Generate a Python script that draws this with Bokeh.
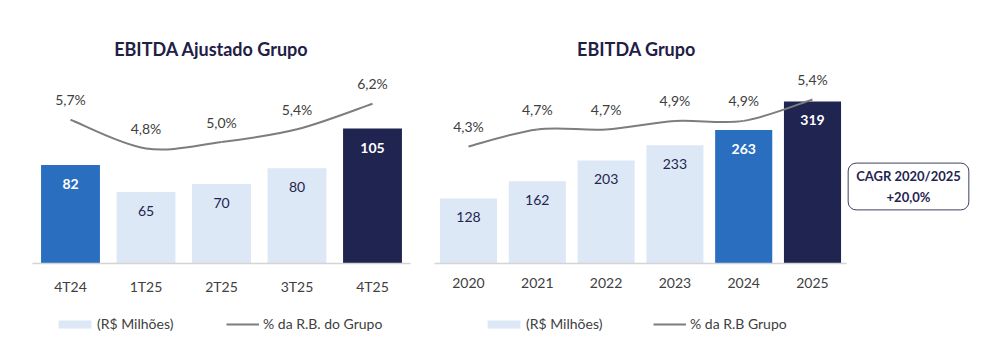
import numpy as np
from bokeh.plotting import figure
from bokeh.models import (ColumnDataSource, Range1d, FixedTicker, Label,
                          Legend, LegendItem)
from bokeh.layouts import row
from bokeh.core.properties import value
from bokeh.embed import file_html
from bokeh.resources import INLINE

# ---------------- data ----------------
adj_title = "EBITDA Ajustado Grupo"
adj_categories = ["4T24", "1T25", "2T25", "3T25", "4T25"]
adj_ebitda = [82, 65, 70, 80, 105]
adj_axis_min = 20
adj_pct = [5.7, 4.8, 5.0, 5.4, 6.2]
adj_pct_labels = ["5,7%", "4,8%", "5,0%", "5,4%", "6,2%"]
adj_legend_bar = "(R$ Milhões)"
adj_legend_line = "% da R.B. do Grupo"

grp_title = "EBITDA Grupo"
grp_categories = ["2020", "2021", "2022", "2023", "2024", "2025"]
grp_ebitda = [128, 162, 203, 233, 263, 319]
grp_axis_min = 0
grp_pct = [4.3, 4.7, 4.7, 4.9, 4.9, 5.4]
grp_pct_labels = ["4,3%", "4,7%", "4,7%", "4,9%", "4,9%", "5,4%"]
grp_legend_bar = "(R$ Milhões)"
grp_legend_line = "% da R.B Grupo"

cagr_text = "CAGR 2020/2025\n+20,0%"

# ---------------- style ----------------
FONT = "Lato"
LIGHT = "#dce8f5"
MID = "#2a6fbf"
DARK = "#1f2550"
NAVY_TXT = "#1f2550"
GRAY_TXT = "#404040"
LINE = "#7d7d7d"

FIG_H = 360
BASE_Y = 263  # page px of the bar baseline


def catmull_bezier(xs, ys):
    n = len(xs)
    pts = list(zip(xs, ys))
    out = dict(x0=[], y0=[], x1=[], y1=[], cx0=[], cy0=[], cx1=[], cy1=[])
    for i in range(n - 1):
        p0 = pts[i - 1] if i > 0 else pts[i]
        p1 = pts[i]
        p2 = pts[i + 1]
        p3 = pts[i + 2] if i + 2 < n else pts[i + 1]
        out["x0"].append(p1[0]); out["y0"].append(p1[1])
        out["x1"].append(p2[0]); out["y1"].append(p2[1])
        out["cx0"].append(p1[0] + (p2[0] - p0[0]) / 6)
        out["cy0"].append(p1[1] + (p2[1] - p0[1]) / 6)
        out["cx1"].append(p2[0] - (p3[0] - p1[0]) / 6)
        out["cy1"].append(p2[1] - (p3[1] - p1[1]) / 6)
    return out


def make_chart(title, title_cx, cats, vals, axis_min, pct, pct_labels,
               bar_colors, lbl_colors, lbl_styles, light_idx,
               fig_left, width, first_cx, step, bar_ppu,
               pct_ref, pct_ref_y, pct_ppu, bar_width,
               leg_bar_text, leg_line_text, leg_bar_x, leg_line_x):
    n = len(cats)
    # ranges so that the frame covers the whole figure
    x_start = -(first_cx - fig_left) / step
    x_end = (fig_left + width - first_cx) / step
    y_start = axis_min - (FIG_H - BASE_Y) / bar_ppu
    y_end = axis_min + BASE_Y / bar_ppu
    p_start = pct_ref - (FIG_H - pct_ref_y) / pct_ppu
    p_end = pct_ref + pct_ref_y / pct_ppu

    p = figure(width=width, height=FIG_H, output_backend="svg",
               toolbar_location=None, y_axis_location=None,
               x_range=Range1d(x_start, x_end), y_range=Range1d(y_start, y_end),
               min_border=0)
    p.extra_y_ranges = {"pct": Range1d(p_start, p_end)}
    p.outline_line_color = None
    p.xgrid.visible = False
    p.ygrid.visible = False

    def yd(page_y):
        return axis_min + (BASE_Y - page_y) * 1.0 / bar_ppu

    def xd(page_x):
        return (page_x - first_cx) / step

    xs = list(range(n))
    src = ColumnDataSource(dict(x=xs, top=vals, color=bar_colors,
                                lbl=[str(v) for v in vals],
                                lcolor=lbl_colors, lstyle=lbl_styles))
    bars = p.vbar(x="x", top="top", bottom=axis_min, width=bar_width,
                  fill_color="color", line_color=None, source=src)
    p.text(x="x", y="top", text="lbl", source=src, text_font=value(FONT),
           text_font_size="14px", text_color="lcolor", text_font_style="lstyle",
           text_align="center", text_baseline="middle", y_offset=19)

    bz = catmull_bezier(xs, pct)
    line = p.bezier(source=ColumnDataSource(bz), x0="x0", y0="y0", x1="x1",
                    y1="y1", cx0="cx0", cy0="cy0", cx1="cx1", cy1="cy1",
                    line_color=LINE, line_width=2, y_range_name="pct")
    psrc = ColumnDataSource(dict(x=xs, y=pct, t=pct_labels))
    p.text(x="x", y="y", text="t", source=psrc, y_range_name="pct",
           text_font=value(FONT), text_font_size="14px", text_color=GRAY_TXT,
           text_align="center", text_baseline="middle", y_offset=-20)

    # x axis drawn at the baseline inside the frame
    ax = p.xaxis[0]
    ax.fixed_location = axis_min
    ax.bounds = (-0.5, n - 0.5)
    ax.ticker = FixedTicker(ticks=xs)
    ax.major_label_overrides = {i: c for i, c in enumerate(cats)}
    ax.axis_line_color = "#d4d4d4"
    ax.axis_line_width = 1.5
    ax.major_tick_line_color = None
    ax.minor_tick_line_color = None
    ax.major_label_standoff = 8
    ax.major_label_text_font = FONT
    ax.major_label_text_font_size = "14px"
    ax.major_label_text_color = GRAY_TXT

    # title
    p.add_layout(Label(x=xd(title_cx), y=yd(48), text=title,
                       text_font=FONT, text_font_size="18px",
                       text_font_style="bold", text_color="#1f2046",
                       text_align="center", text_baseline="middle"))

    common = dict(orientation="horizontal", padding=0, margin=0,
                  border_line_color=None, background_fill_color=None,
                  label_text_font=FONT, label_text_font_size="14px",
                  label_text_color=GRAY_TXT, label_height=10,
                  label_text_baseline="middle")
    leg_y = FIG_H - 332
    leg1 = Legend(items=[LegendItem(label=leg_bar_text, renderers=[bars],
                                    index=light_idx)],
                  location=(leg_bar_x - fig_left, leg_y),
                  glyph_width=41, glyph_height=10, label_standoff=2, **common)
    leg2 = Legend(items=[LegendItem(label=leg_line_text, renderers=[line])],
                  location=(leg_line_x - fig_left, leg_y),
                  glyph_width=33, glyph_height=10, label_standoff=4, **common)
    p.add_layout(leg1)
    p.add_layout(leg2)
    return p, xd, yd


p1, _, _ = make_chart(
    adj_title, 211, adj_categories, adj_ebitda, adj_axis_min, adj_pct,
    adj_pct_labels,
    [MID, LIGHT, LIGHT, LIGHT, DARK],
    ["white", NAVY_TXT, NAVY_TXT, NAVY_TXT, "white"],
    ["bold", "normal", "normal", "normal", "bold"], 1,
    fig_left=0, width=420, first_cx=70, step=75.5, bar_ppu=1.588,
    pct_ref=4.8, pct_ref_y=148, pct_ppu=32, bar_width=0.78,
    leg_bar_text=adj_legend_bar, leg_line_text=adj_legend_line,
    leg_bar_x=54, leg_line_x=226)

p2, xd2, yd2 = make_chart(
    grp_title, 636, grp_categories, grp_ebitda, grp_axis_min, grp_pct,
    grp_pct_labels,
    [LIGHT, LIGHT, LIGHT, LIGHT, MID, DARK],
    [NAVY_TXT, NAVY_TXT, NAVY_TXT, NAVY_TXT, "white", "white"],
    ["normal", "normal", "normal", "normal", "bold", "bold"], 0,
    fig_left=420, width=556, first_cx=468, step=68.8, bar_ppu=0.508,
    pct_ref=4.3, pct_ref_y=146, pct_ppu=42.7, bar_width=0.83,
    leg_bar_text=grp_legend_bar, leg_line_text=grp_legend_line,
    leg_bar_x=483, leg_line_x=653)

p2.add_layout(Label(x=xd2(908), y=yd2(186), text=cagr_text,
                    text_font=FONT, text_font_size="13px",
                    text_font_style="bold", text_color=NAVY_TXT,
                    text_align="center", text_baseline="middle",
                    text_line_height=1.3,
                    border_line_color="#3c4060", border_line_width=1,
                    background_fill_color="white", padding=(8, 5),
                    border_radius=8))

layout = row(p1, p2)
open("out.html", "w").write(file_html(layout, INLINE))
